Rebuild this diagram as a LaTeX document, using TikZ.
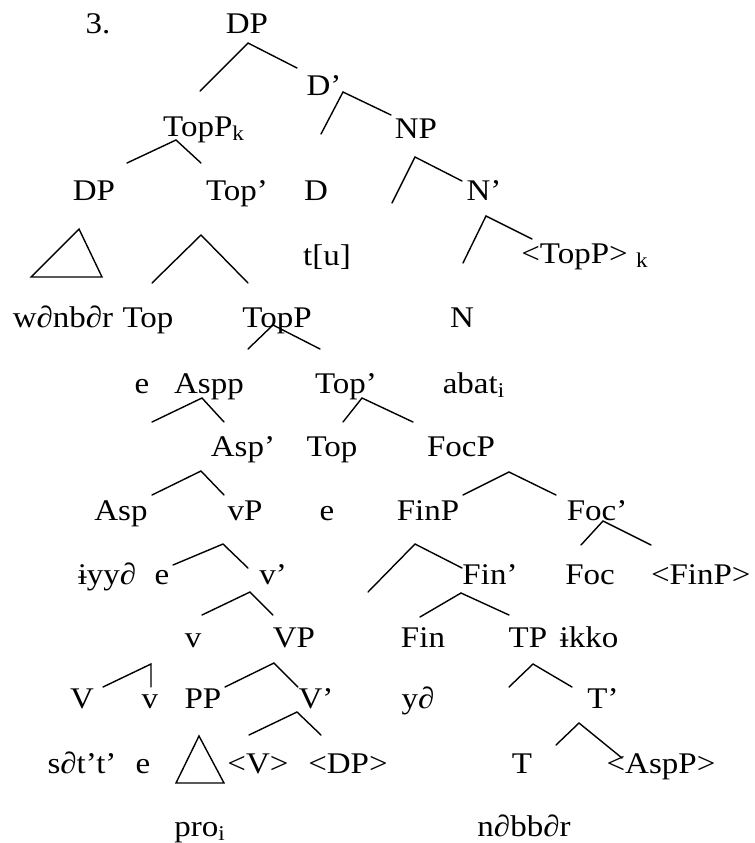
\documentclass[tikz,border=0pt]{standalone}
\usepackage{fontspec}
\setmainfont{Liberation Serif}[FakeStretch=1.1]
\usepackage{tikz}
\usetikzlibrary{positioning}

\begin{document}
\begin{tikzpicture}[
      x=0.5pt, y=-0.5pt,
      lbl/.style={anchor=base, inner sep=0pt, font=\fontsize{15}{18}\selectfont},
      br/.style={line width=0.7pt, line cap=round, line join=miter}
    ]
      \useasboundingbox (0,0) rectangle (755,843);
      % labels, row by row
      \node[lbl] (num) at (98,33) {3.};
      \node[lbl] (dp0) at (247,33) {DP};
      \node[lbl] (dbar) at (324,95) {D'};
      \node[lbl] (np) at (416,138) {NP};
      \node[lbl] (topk) at (204,136) {TopP\textsubscript{k}};
      \node[lbl] (nbar) at (484,200) {N'};
      \node[lbl] (dp1) at (94,200) {DP};
      \node[lbl] (topbar1) at (237,200) {Top'};
      \node[lbl] (d) at (316,200) {D};
      \node[lbl] (tu) at (327,265) {t[u]};
      \node[lbl] (toptr) at (585,263) {<TopP>~\textsubscript{k}};
      \node[lbl] (wanbar) at (63,327) {w∂nb∂r};
      \node[lbl] (top1) at (148,327) {Top};
      \node[lbl] (topp) at (277,327) {TopP};
      \node[lbl] (n) at (462,327) {N};
      \node[lbl] (e1) at (142,393) {e};
      \node[lbl] (aspp) at (209,393) {Aspp};
      \node[lbl] (topbar2) at (346,393) {Top'};
      \node[lbl] (abat) at (474,393) {abat\textsubscript{i}};
      \node[lbl] (aspbar) at (243,456) {Asp'};
      \node[lbl] (top2) at (332,456) {Top};
      \node[lbl] (focp) at (461,456) {FocP};
      \node[lbl] (asp) at (121,520) {Asp};
      \node[lbl] (vp) at (245,520) {vP};
      \node[lbl] (e2) at (327,520) {e};
      \node[lbl] (finp) at (428,520) {FinP};
      \node[lbl] (focbar) at (597,520) {Foc'};
      \node[lbl] (iyya) at (107,584) {ɨyy∂};
      \node[lbl] (e3) at (162,584) {e};
      \node[lbl] (vbar) at (273,584) {v'};
      \node[lbl] (finbar) at (490,584) {Fin'};
      \node[lbl] (foc) at (590,584) {Foc};
      \node[lbl, anchor=base east] (fintr) at (751,584) {<FinP>};
      \node[lbl] (v1) at (193,647) {v};
      \node[lbl] (bigvp) at (294,647) {VP};
      \node[lbl] (fin) at (423,647) {Fin};
      \node[lbl] (tp) at (528,647) {TP};
      \node[lbl] (ikko) at (589,647) {ɨkko};
      \node[lbl] (bigv) at (82,708) {V};
      \node[lbl] (v2) at (150,708) {v};
      \node[lbl] (pp) at (203,708) {PP};
      \node[lbl] (bigvbar) at (316,708) {V'};
      \node[lbl] (ya) at (418,708) {y∂};
      \node[lbl] (tbar) at (603,708) {T'};
      \node[lbl] (satt) at (82,773) {s∂t't'};
      \node[lbl] (e4) at (143,773) {e};
      \node[lbl] (vtr) at (258,773) {<V>};
      \node[lbl] (dptr) at (348,773) {<DP>};
      \node[lbl] (t) at (522,773) {T};
      \node[lbl] (asptr) at (661,773) {<AspP>};
      \node[lbl] (pro) at (200,836) {pro\textsubscript{i}};
      \node[lbl] (nabbar) at (524,836) {n∂bb∂r};
      % branch points
      \coordinate (dp0a) at (248,43);  \coordinate (dp0l) at (200,91);  \coordinate (dp0r) at (297,68);
      \coordinate (dbara) at (343,92); \coordinate (dbarl) at (321,134); \coordinate (dbarr) at (391,115);
      \coordinate (topka) at (176,140); \coordinate (topkl) at (127,163); \coordinate (topkr) at (201,163);
      \coordinate (npa) at (415,157);  \coordinate (npl) at (392,203);  \coordinate (npr) at (462,181);
      \coordinate (nbara) at (486,216); \coordinate (nbarl) at (463,263); \coordinate (nbarr) at (532,239);
      \coordinate (dp1a) at (79,229);  \coordinate (dp1l) at (31,277);  \coordinate (dp1r) at (102,277);
      \coordinate (tb1a) at (201,235); \coordinate (tb1l) at (152,283); \coordinate (tb1r) at (248,283);
      \coordinate (toppa) at (273,325); \coordinate (toppl) at (248,349); \coordinate (toppr) at (320,349);
      \coordinate (asppa) at (202,398); \coordinate (asppl) at (152,422); \coordinate (asppr) at (224,422);
      \coordinate (tb2a) at (362,398); \coordinate (tb2l) at (343,422); \coordinate (tb2r) at (413,422);
      \coordinate (aspba) at (201,471); \coordinate (aspbl) at (152,495); \coordinate (aspbr) at (224,495);
      \coordinate (focpa) at (509,472); \coordinate (focpl) at (463,495); \coordinate (focpr) at (556,495);
      \coordinate (vpa) at (223,544);  \coordinate (vpl) at (173,565);  \coordinate (vpr) at (248,568);
      \coordinate (finpa) at (415,544); \coordinate (finpl) at (368,592); \coordinate (finpr) at (462,568);
      \coordinate (focba) at (603,521); \coordinate (focbl) at (581,545); \coordinate (focbr) at (651,545);
      \coordinate (vbara) at (250,592); \coordinate (vbarl) at (202,615); \coordinate (vbarr) at (273,615);
      \coordinate (finba) at (461,593); \coordinate (finbl) at (420,617); \coordinate (finbr) at (509,615);
      \coordinate (bvpa) at (274,663); \coordinate (bvpl) at (225,687); \coordinate (bvpr) at (298,687);
      \coordinate (tpa) at (533,664);  \coordinate (tpl) at (509,687);  \coordinate (tpr) at (572,687);
      \coordinate (bva) at (151,664);  \coordinate (bvl) at (103,687);  \coordinate (bvr) at (151,687);
      \coordinate (bvba) at (297,712); \coordinate (bvbl) at (249,735); \coordinate (bvbr) at (321,735);
      \coordinate (tbara) at (579,723); \coordinate (tbarl) at (556,745); \coordinate (tbarr) at (622,758);
      \coordinate (ppa) at (199,736);  \coordinate (ppl) at (176,783);  \coordinate (ppr) at (224,783);
      % branches
      \foreach \b in {dp0, dbar, topk, np, nbar, tb1, topp, aspp, tb2, aspb, focp, vp, finp, focb, vbar, finb, bvp, tp, bv, bvb, tbar}
        \draw[br] (\b l) -- (\b a) -- (\b r);
      \draw[br] (dp1a) -- (dp1l) -- (dp1r) -- cycle;
      \draw[br] (ppa) -- (ppl) -- (ppr) -- cycle;
    \end{tikzpicture}
\end{document}
